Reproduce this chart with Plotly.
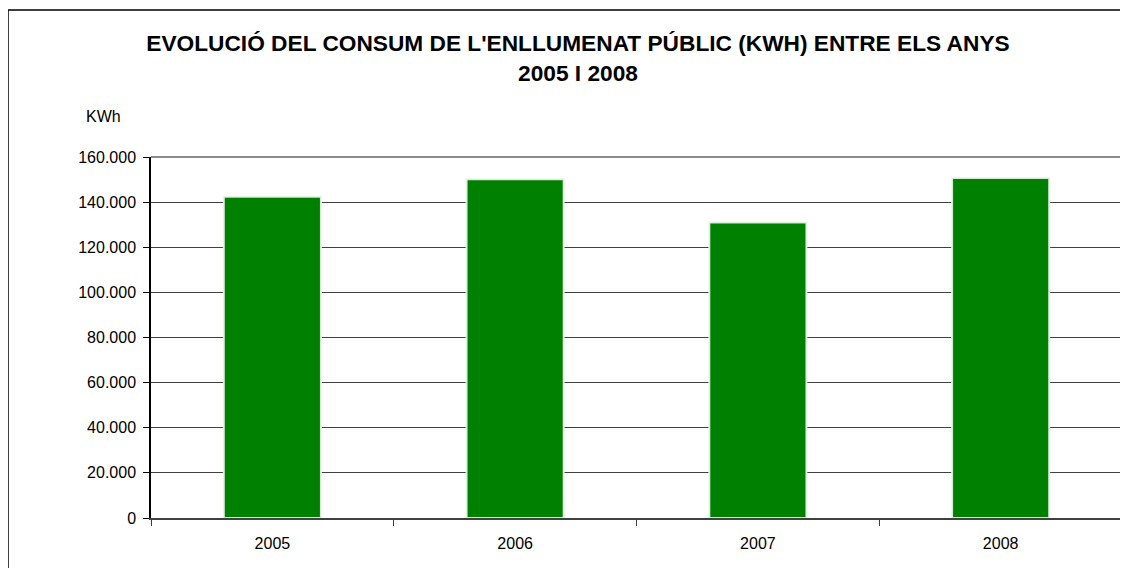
import plotly.graph_objects as go

years = ['2005', '2006', '2007', '2008']
consum_kwh = [142400, 150100, 131000, 150700]
y_ticks = [0, 20000, 40000, 60000, 80000, 100000, 120000, 140000, 160000]

title_lines = ["EVOLUCIÓ DEL CONSUM DE L'ENLLUMENAT PÚBLIC (KWH) ENTRE ELS ANYS",
               "2005 I 2008"]

# page body has an 8px margin, so the figure is a bit smaller than the window
W, H = 1120, 560

fig = go.Figure()
fig.add_trace(go.Bar(
    x=years,
    y=consum_kwh,
    marker=dict(color='#008000', line=dict(color='rgba(235,245,235,0.9)', width=2)),
    width=0.4,
    hoverinfo='x+y',
))

fig.update_layout(
    width=W, height=H,
    margin=dict(l=143, r=6, t=149, b=50),
    paper_bgcolor='white',
    plot_bgcolor='white',
    separators=',.',
    font=dict(family='Liberation Sans, Arial, sans-serif', size=16, color='black'),
    showlegend=False,
    title=dict(
        text='<b>' + '<br>'.join(title_lines) + '</b>',
        x=570 / W, xanchor='center', xref='container',
        y=1 - 43 / H, yanchor='middle', yref='container',
        font=dict(size=22.7, color='black'),
    ),
)

fig.update_xaxes(
    type='category',
    showline=True, linecolor='#404040', linewidth=2,
    ticks='outside', tickson='boundaries', ticklen=6, tickcolor='#404040', tickwidth=1,
    showgrid=False,
    ticklabelstandoff=10,
)
fig.update_yaxes(
    range=[0, 160000],
    tickvals=y_ticks,
    tickformat=',d',
    showline=True, linecolor='black', linewidth=1.5,
    ticks='outside', ticklen=6, tickcolor='black', tickwidth=1,
    showgrid=True, gridcolor='#404040', gridwidth=1,
    zeroline=False,
    ticklabelstandoff=4,
)

# grey frame on top and right of the plot area
fig.add_shape(type='line', xref='paper', yref='paper', x0=0, x1=1, y0=1, y1=1,
              line=dict(color='#8a8a8a', width=2))
fig.add_shape(type='line', xref='paper', yref='paper', x0=1, x1=1, y0=0, y1=1,
              line=dict(color='#8a8a8a', width=2))

# outer chart border
fig.add_shape(type='rect', xref='paper', yref='paper',
              x0=(8 - 151) / 971, x1=(1140 - 151) / 971,
              y0=(518 - 590) / 361, y1=(518 - 10) / 361,
              line=dict(color='black', width=1.5), layer='below')

fig.add_annotation(text='KWh', xref='paper', yref='paper',
                   x=(103 - 151) / 971, y=(518 - 117) / 361,
                   xanchor='center', yanchor='middle',
                   showarrow=False, font=dict(size=16))

fig.write_html('out.html')
